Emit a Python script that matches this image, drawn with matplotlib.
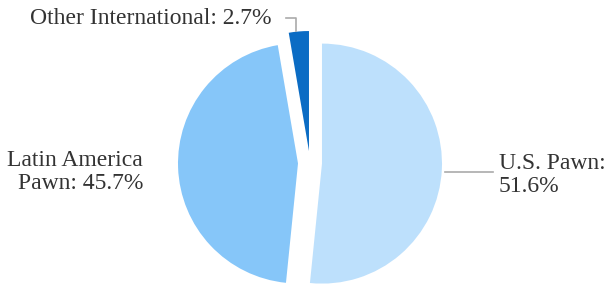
import matplotlib.pyplot as plt

segments = ["U.S. Pawn", "Latin America Pawn", "Other International"]
shares = [51.6, 45.7, 2.7]
labels = ["U.S. Pawn:\n51.6%", "Latin America\nPawn: 45.7%", "Other International: 2.7%"]
colors = ["#bde0fc", "#86c6f9", "#0b6cc4"]

plt.rcParams["font.family"] = "Liberation Serif"

fig = plt.figure(figsize=(6.11, 2.87), dpi=100)
ax = fig.add_axes([0, 0, 1, 1])

# work in pixel units, so explode is in pixels too
cx, cy, r = 310, 124, 120
wedges, _ = ax.pie(shares, colors=colors, startangle=90, counterclock=False,
                   explode=[12, 12, 12], radius=r, center=(cx, cy),
                   frame=True, wedgeprops=dict(linewidth=0))
ax.set_xlim(0, 611)
ax.set_ylim(0, 287)
ax.set_aspect("equal")
ax.axis("off")

txt = dict(fontsize=17, color="#333333")
line = dict(color="#aaaaaa", lw=1.2)

# U.S. Pawn
ax.plot([445, 493], [115, 115], **line)
ax.text(499, 112, labels[0], ha="left", va="center", linespacing=1.15, **txt)

# Latin America
ax.text(143, 115, labels[1], ha="right", va="center", linespacing=1.15, **txt)

# Other International
ax.plot([286, 296, 296], [269, 269, 256], **line)
ax.text(272, 268, labels[2], ha="right", va="center", **txt)

fig.savefig("out.png", dpi=100)
